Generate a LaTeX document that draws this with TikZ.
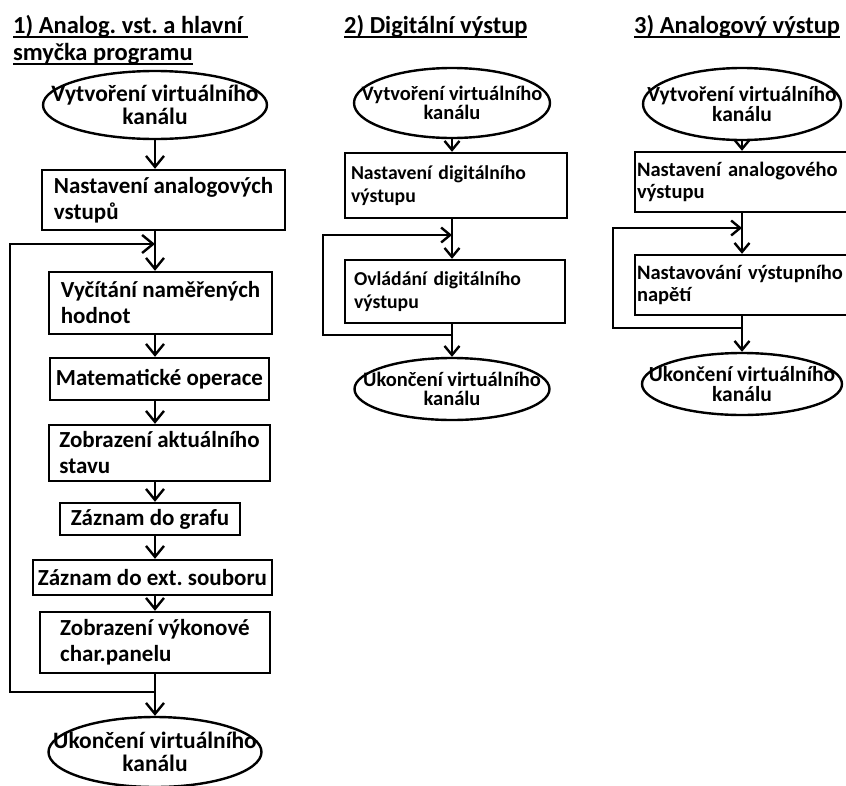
\documentclass[tikz,border=0pt]{standalone}
\usepackage{fontspec}
\setmainfont{Carlito}
\frenchspacing
\newcommand{\titleul}[1]{\setbox0\hbox{#1}\rlap{\rule[-4.5pt]{\wd0}{1.8pt}}\box0}
\usetikzlibrary{shapes.geometric,arrows.meta}

\begin{document}
\begin{tikzpicture}[x=1pt,y=-1pt,line width=2.4pt,
    >={Straight Barb[length=9pt,width=15pt]},
    big/.style={>={Straight Barb[length=11pt,width=18pt]}},
    term/.style={draw,ellipse,inner xsep=-60pt,inner ysep=-20pt,align=center},
    proc/.style={draw,rectangle,inner xsep=2pt,inner ysep=0pt,align=left},
    heading/.style={inner sep=0pt,align=left,anchor=base west,font=\bfseries\fontsize{24.5}{27}\selectfont},
    e1/.style={font=\bfseries\fontsize{23.5}{23.5}\selectfont},
    c1/.style={font=\bfseries\fontsize{23}{26}\selectfont},
    e2/.style={font=\bfseries\fontsize{20.5}{19}\selectfont},
    c2/.style={font=\bfseries\fontsize{19.7}{23}\selectfont},
    e3/.style={font=\bfseries\fontsize{21.5}{20}\selectfont},
    c3/.style={font=\bfseries\fontsize{20.5}{22}\selectfont}]
    \useasboundingbox (0,0) rectangle (846,785);

    \node[heading] (t1) at (12,60) {\titleul{1) Analog. vst. a hlavní\ }\\\titleul{smyčka programu}};
    \node[heading] (t2) at (343,33) {\titleul{2) Digitální výstup}};
    \node[heading] (t3) at (633,33) {\titleul{3) Analogový výstup}};

    \node[term,e1,minimum width=224,minimum height=68] (vk1) at (155,105) {Vytvoření virtuálního\\kanálu};
    \node[proc,c1,minimum width=243,minimum height=60] (nav) at (163.5,200) {Nastavení analogových\\vstupů};
    \node[proc,c1,minimum width=223,minimum height=62] (vyc) at (160.5,303) {Vyčítání naměřených\\hodnot};
    \node[proc,c1,minimum width=219,minimum height=42] (mat) at (159.5,379) {Matematické operace};
    \node[proc,c1,minimum width=221,minimum height=56] (zob) at (159.5,453) {Zobrazení aktuálního\\stavu};
    \node[proc,c1,minimum width=180,minimum height=32] (zgr) at (150,519) {Záznam do grafu};
    \node[proc,c1,minimum width=239,minimum height=35] (zext) at (152.5,577.5) {Záznam do ext. souboru};
    \node[proc,c1,minimum width=230,minimum height=61] (zvk) at (155,642.5) {Zobrazení výkonové\\char.panelu};
    \node[term,e1,minimum width=213,minimum height=70] (uk1) at (155,752) {Ukončení virtuálního\\kanálu};
    \coordinate (lp1) at (155,692);
    \coordinate (lz1) at (155,244);

    \begin{scope}[big]
    \draw[->] (vk1) to (vk1 |- nav.north);
    \draw[->] (vk1 |- nav.south) to (vk1 |- vyc.north);
    \draw[->] (vk1 |- vyc.south) to (vk1 |- mat.north);
    \draw[->] (vk1 |- mat.south) to (vk1 |- zob.north);
    \draw[->] (vk1 |- zob.south) to (vk1 |- zgr.north);
    \draw[->] (vk1 |- zgr.south) to (vk1 |- zext.north);
    \draw[->] (vk1 |- zext.south) to (vk1 |- zvk.north);
    \draw[->] (vk1 |- zvk.south) to (uk1);
    \draw[->] (lp1) -- ++(-145,0) |- (lz1);
    \end{scope}

    \node[term,e2,minimum width=196,minimum height=70] (vk2) at (452,103) {Vytvoření virtuálního\\kanálu};
    \node[proc,c2,inner xsep=6pt,text width=210,minimum height=65] (ndv) at (456,185.5) {Nastavení digitálního\\výstupu};
    \node[proc,c2,inner xsep=9pt,text width=202,minimum height=63] (odv) at (455,291.5) {Ovládání digitálního\\výstupu};
    \node[term,e2,minimum width=195,minimum height=62] (uk2) at (452,389) {Ukončení virtuálního\\kanálu};
    \coordinate (lp2) at (452,335);
    \coordinate (lz2) at (452,235);

    \draw[->] (vk2) to (vk2 |- ndv.north);
    \draw[->] (vk2 |- ndv.south) to (vk2 |- odv.north);
    \draw[->] (vk2 |- odv.south) to (uk2);
    \draw[->] (lp2) -- ++(-129,0) |- (lz2);

    \node[term,e3,minimum width=198,minimum height=72] (vk3) at (742,104) {Vytvoření virtuálního\\kanálu};
    \node[proc,c3,text width=221,minimum height=60] (nav3) at (747.5,182) {Nastavení analogového\\výstupu};
    \node[proc,c3,text width=221,minimum height=60] (nvn) at (747.5,285) {Nastavování výstupního\\napětí};
    \node[term,e3,minimum width=200,minimum height=62] (uk3) at (742,384) {Ukončení virtuálního\\kanálu};
    \coordinate (lp3) at (742,328);
    \coordinate (lz3) at (742,228);

    \draw[->] (vk3) to (vk3 |- nav3.north);
    \draw[->] (vk3 |- nav3.south) to (vk3 |- nvn.north);
    \draw[->] (vk3 |- nvn.south) to (uk3);
    \draw[->] (lp3) -- ++(-129,0) |- (lz3);
\end{tikzpicture}
\end{document}
